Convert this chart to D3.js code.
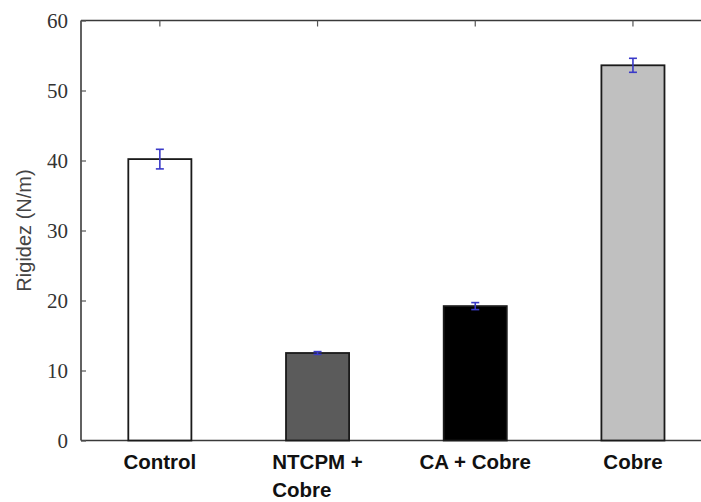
<!DOCTYPE html>
<html>
<head>
<meta charset="utf-8">
<script src="https://cdn.jsdelivr.net/npm/d3@7"></script>
<style>
  body { margin:0; background:#fff; }
  svg { display:block; }
</style>
</head>
<body>
<div id="chart"></div>
<script>
const categories = ["Control", "NTCPM + Cobre", "CA + Cobre", "Cobre"];
const labelLines = [["Control"], ["NTCPM +", "Cobre"], ["CA + Cobre"], ["Cobre"]];
const values = [40.2, 12.5, 19.2, 53.6];
const errors = [1.4, 0.2, 0.5, 1.0];
const fills = ["#ffffff", "#5b5b5b", "#000000", "#c0c0c0"];
const yTicks = [0, 10, 20, 30, 40, 50, 60];

const width = 701, height = 502;
const margin = { top:20.5, right:0, bottom:61.5, left:81 };
const svg = d3.select('#chart').append('svg').attr('width', width).attr('height', height);

const x = d3.scaleBand().domain(categories).range([margin.left, margin.left + 4*157.7]).paddingInner(0.6).paddingOuter(0.3);
const y = d3.scaleLinear().domain([0, 60]).range([height - margin.bottom, margin.top]);

// frame: left, top, bottom (no right edge)
const axisColor = '#3a3a3a';
svg.append('line').attr('x1', margin.left).attr('x2', width).attr('y1', y(60)).attr('y2', y(60)).attr('stroke', axisColor).attr('stroke-width', 1.6);
svg.append('line').attr('x1', margin.left).attr('x2', width).attr('y1', y(0)).attr('y2', y(0)).attr('stroke', axisColor).attr('stroke-width', 1.6);
svg.append('line').attr('x1', margin.left).attr('x2', margin.left).attr('y1', y(60)).attr('y2', y(0)).attr('stroke', axisColor).attr('stroke-width', 1.6);

// y ticks (inward) + labels
const yg = svg.append('g').attr('transform', `translate(${margin.left},0)`)
  .call(d3.axisLeft(y).tickValues(yTicks).tickSize(-5).tickPadding(13).tickFormat(d3.format('d')));
yg.select('.domain').remove();
yg.selectAll('line').attr('stroke', '#555').attr('stroke-width', 1.2);
yg.selectAll('text').attr('font-family', '"Liberation Serif", "Times New Roman", serif').attr('font-size', 21).attr('fill', '#333');

// top ticks at category centres (inward)
svg.append('g').selectAll('line').data(categories).enter().append('line')
  .attr('x1', d => x(d) + x.bandwidth()/2).attr('x2', d => x(d) + x.bandwidth()/2)
  .attr('y1', y(60)).attr('y2', y(60) + 6).attr('stroke', '#555').attr('stroke-width', 1.2);

// bars
svg.append('g').selectAll('rect').data(categories).enter().append('rect')
  .attr('x', d => x(d)).attr('width', x.bandwidth())
  .attr('y', (d,i) => y(values[i])).attr('height', (d,i) => y(0) - y(values[i]))
  .attr('fill', (d,i) => fills[i]).attr('stroke', '#1a1a1a').attr('stroke-width', 1.8);

// error bars (blue)
const eb = svg.append('g').attr('stroke', '#3a3ac8').attr('stroke-width', 1.6);
categories.forEach((c, i) => {
  const cx = x(c) + x.bandwidth()/2;
  const top = y(values[i] + errors[i]), bot = y(values[i] - errors[i]);
  eb.append('line').attr('x1', cx).attr('x2', cx).attr('y1', top).attr('y2', bot);
  eb.append('line').attr('x1', cx - 4).attr('x2', cx + 4).attr('y1', top).attr('y2', top);
  eb.append('line').attr('x1', cx - 4).attr('x2', cx + 4).attr('y1', bot).attr('y2', bot);
});

// x labels (multi-line ones left-aligned on the first line)
const xl = svg.append('g').attr('font-family', '"Liberation Sans", Arial, sans-serif').attr('font-size', 20.5).attr('font-weight', 'bold').attr('fill', '#111');
labelLines.forEach((lines, i) => {
  const cx = x(categories[i]) + x.bandwidth()/2;
  const t = xl.append('text');
  lines.forEach((s, j) => t.append('tspan').attr('y', 469 + j*28).text(s));
  const w = t.select('tspan').node().getComputedTextLength();
  t.selectAll('tspan').attr('x', cx - w/2);
});

// y axis title
svg.append('text').attr('transform', `translate(31,${(y(0)+y(60))/2}) rotate(-90)`)
  .attr('text-anchor', 'middle').attr('font-family', '"Liberation Sans", Arial, sans-serif')
  .attr('font-size', 20).attr('fill', '#444').text('Rigidez (N/m)');
</script>
</body>
</html>
